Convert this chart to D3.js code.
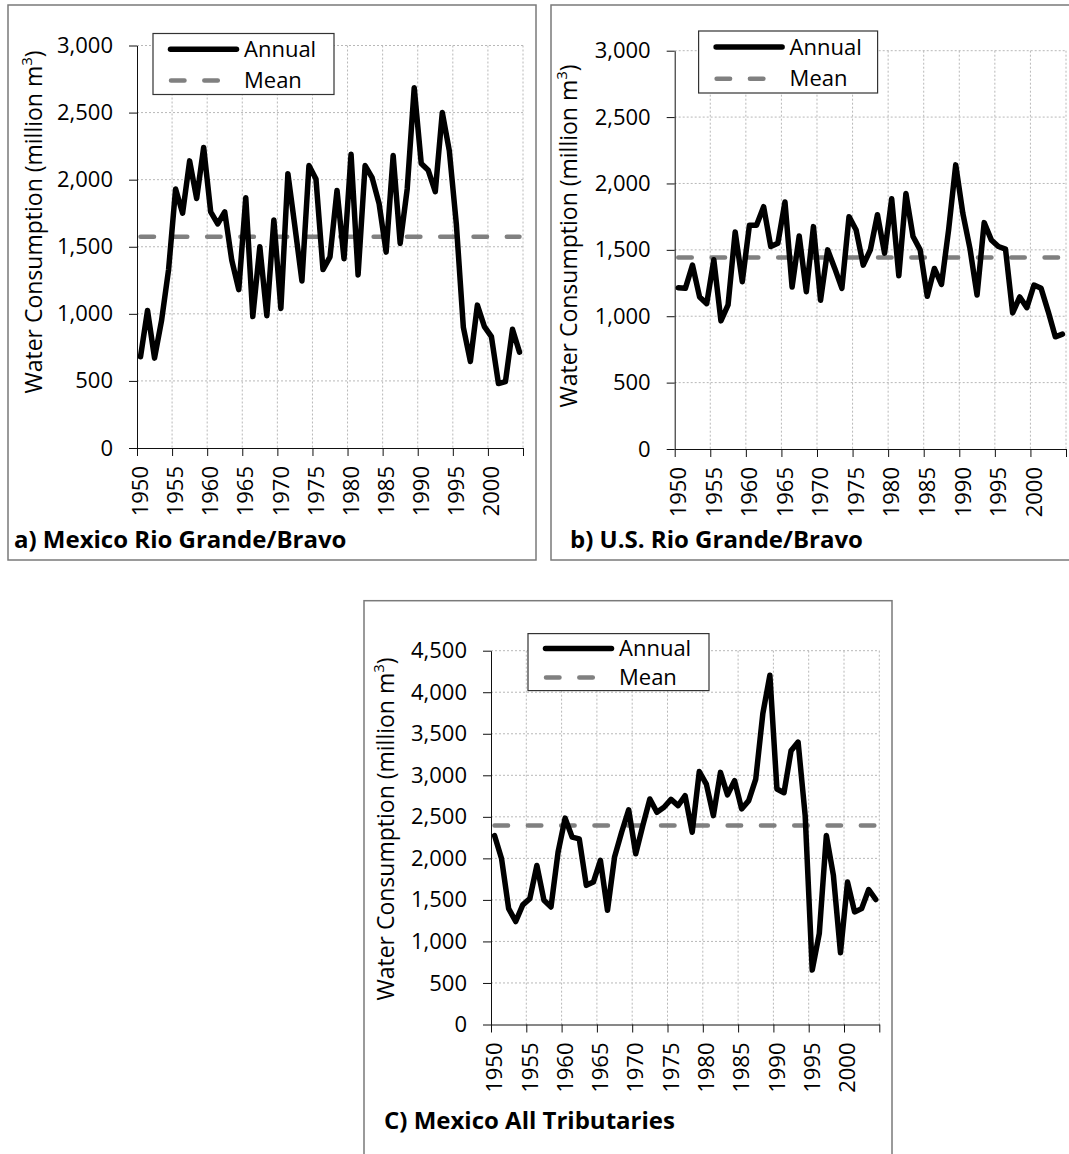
<!DOCTYPE html>
<html>
<head>
<meta charset="utf-8">
<script src="https://cdn.jsdelivr.net/npm/d3@7/dist/d3.min.js"></script>
<style>
  body { margin: 0; background: #fff; }
  svg { display: block; font-family: "Open Sans", "Liberation Sans", sans-serif; }
</style>
</head>
<body>
<div id="chart"></div>
<script>
// Categories (one per year) and the labelled ticks on the x axis.
const years = [
  1950, 1951, 1952, 1953, 1954, 1955, 1956, 1957, 1958, 1959,
  1960, 1961, 1962, 1963, 1964, 1965, 1966, 1967, 1968, 1969,
  1970, 1971, 1972, 1973, 1974, 1975, 1976, 1977, 1978, 1979,
  1980, 1981, 1982, 1983, 1984, 1985, 1986, 1987, 1988, 1989,
  1990, 1991, 1992, 1993, 1994, 1995, 1996, 1997, 1998, 1999,
  2000, 2001, 2002, 2003, 2004,
];
const xTickLabels = ["1950", "1955", "1960", "1965", "1970", "1975", "1980", "1985", "1990", "1995", "2000"];

const yTicksRio = [0, 500, 1000, 1500, 2000, 2500, 3000];
const yTicksTrib = [0, 500, 1000, 1500, 2000, 2500, 3000, 3500, 4000, 4500];

// Annual water consumption, million m3.
const mexicoRio = [
  680, 1025, 670, 950, 1330, 1930, 1750, 2140, 1860, 2240,
  1760, 1670, 1760, 1400, 1180, 1865, 980, 1500, 985, 1700,
  1040, 2045, 1650, 1245, 2105, 2005, 1330, 1425, 1920, 1410,
  2190, 1290, 2105, 2015, 1820, 1460, 2180, 1525, 1930, 2685,
  2120, 2070, 1910, 2500, 2215, 1670, 900, 645, 1065, 905,
  830, 480, 495, 885, 715,
];
const usRio = [
  1215, 1210, 1385, 1145, 1095, 1425, 965, 1085, 1635, 1260,
  1685, 1685, 1825, 1525, 1550, 1860, 1220, 1605, 1185, 1675,
  1120, 1500, 1360, 1210, 1750, 1650, 1385, 1500, 1765, 1475,
  1885, 1305, 1925, 1600, 1500, 1150, 1360, 1240, 1650, 2140,
  1775, 1510, 1160, 1705, 1575, 1525, 1505, 1025, 1145, 1065,
  1235, 1210, 1035, 845, 865,
];
const mexicoTrib = [
  2275, 1995, 1395, 1240, 1440, 1515, 1915, 1495, 1415, 2075,
  2485, 2255, 2235, 1675, 1715, 1975, 1375, 2015, 2315, 2585,
  2055, 2395, 2715, 2555, 2615, 2710, 2635, 2755, 2315, 3045,
  2895, 2515, 3035, 2765, 2935, 2595, 2695, 2955, 3740, 4205,
  2835, 2790, 3295, 3400, 2515, 655, 1095, 2275, 1795, 865,
  1715, 1355, 1395, 1625, 1505,
];

const mexicoRioMean = 1575;
const usRioMean = 1443;
const mexicoTribMean = 2395;

const legendLabels = ["Annual", "Mean"];
const yTitle = "Water Consumption (million m";

const panels = [
  {
    title: "a) Mexico Rio Grande/Bravo",
    values: mexicoRio,
    mean: mexicoRioMean,
    yTicks: yTicksRio,
    frame: { x: 8, y: 5, w: 528, h: 555 },
    plot: { left: 137, right: 523, top: 45.5, bottom: 448 },
    legend: { x: 153, y: 33.5, w: 181, h: 61 },
    yTitlePos: { x: 42, y: 222 },
    titlePos: { x: 14, y: 548 },
  },
  {
    title: "b) U.S. Rio Grande/Bravo",
    values: usRio,
    mean: usRioMean,
    yTicks: yTicksRio,
    frame: { x: 551, y: 5, w: 540, h: 555 },
    plot: { left: 674.7, right: 1066, top: 50.7, bottom: 449 },
    legend: { x: 698.6, y: 31, w: 179, h: 62 },
    yTitlePos: { x: 577, y: 236 },
    titlePos: { x: 570, y: 548 },
  },
  {
    title: "C) Mexico All Tributaries",
    values: mexicoTrib,
    mean: mexicoTribMean,
    yTicks: yTicksTrib,
    frame: { x: 364, y: 600.7, w: 528, h: 600 },
    plot: { left: 491, right: 879.3, top: 650.7, bottom: 1024.5 },
    legend: { x: 528, y: 633.6, w: 181, h: 57 },
    yTitlePos: { x: 394, y: 829 },
    titlePos: { x: 384, y: 1129 },
  },
];

const gridColor = "#b8b8b8";
const meanColor = "#808080";
const meanDash = "13.5,19.8";

const svg = d3
  .select("#chart")
  .append("svg")
  .attr("width", 1069)
  .attr("height", 1154);

svg.append("rect").attr("width", 1069).attr("height", 1154).attr("fill", "#fff");

function drawPanel(p) {
  const g = svg.append("g");

  // outer chart border
  g.append("rect")
    .attr("x", p.frame.x)
    .attr("y", p.frame.y)
    .attr("width", p.frame.w)
    .attr("height", p.frame.h)
    .attr("fill", "none")
    .attr("stroke", "#7a7a7a")
    .attr("stroke-width", 1.5);

  const x = d3
    .scaleBand()
    .domain(years)
    .range([p.plot.left, p.plot.right]);
  const bw = x.bandwidth();

  // edges of the categories, where Excel puts the ticks
  const edges = xTickLabels.map(Number).concat([years[years.length - 1] + 1]);
  const xEdge = d3
    .scaleLinear()
    .domain([years[0], years[years.length - 1] + 1])
    .range([p.plot.left, p.plot.right]);

  const yMax = p.yTicks[p.yTicks.length - 1];
  const y = d3.scaleLinear().domain([0, yMax]).range([p.plot.bottom, p.plot.top]);

  // gridlines
  g.append("g")
    .selectAll("line")
    .data(p.yTicks.filter((d) => d > 0))
    .join("line")
    .attr("x1", p.plot.left)
    .attr("x2", p.plot.right)
    .attr("y1", (d) => y(d))
    .attr("y2", (d) => y(d))
    .attr("stroke", gridColor)
    .attr("stroke-dasharray", "2,2");

  g.append("g")
    .selectAll("line")
    .data(edges.slice(1))
    .join("line")
    .attr("x1", (d) => xEdge(d))
    .attr("x2", (d) => xEdge(d))
    .attr("y1", p.plot.top)
    .attr("y2", p.plot.bottom)
    .attr("stroke", gridColor)
    .attr("stroke-dasharray", "2,2");

  // y axis
  const yAxis = g
    .append("g")
    .attr("transform", `translate(${p.plot.left},0)`)
    .call(
      d3
        .axisLeft(y)
        .tickValues(p.yTicks)
        .tickFormat(d3.format(","))
        .tickSizeInner(8)
        .tickSizeOuter(0)
        .tickPadding(16)
    )
    .attr("font-family", null)
    .attr("font-size", 22);
  yAxis.selectAll("path, line").attr("stroke", "#111");
  yAxis.selectAll("text").attr("fill", "#000");

  // x axis: ticks at category edges, labels centred on categories
  const xAxis = g
    .append("g")
    .attr("transform", `translate(0,${p.plot.bottom})`)
    .call(d3.axisBottom(xEdge).tickValues(edges).tickFormat("").tickSizeInner(8).tickSizeOuter(0));
  xAxis.selectAll("path, line").attr("stroke", "#111");

  g.append("g")
    .selectAll("text")
    .data(xTickLabels)
    .join("text")
    .attr("transform", (d) => `translate(${x(+d) + bw / 2},${p.plot.bottom + 18}) rotate(-90)`)
    .attr("text-anchor", "end")
    .attr("dy", "0.35em")
    .attr("font-size", 22)
    .attr("fill", "#000")
    .text((d) => d);

  // mean line
  const meanLine = d3
    .line()
    .x((d) => x(d) + bw / 2)
    .y(() => y(p.mean));

  g.append("path")
    .datum(years)
    .attr("d", meanLine)
    .attr("fill", "none")
    .attr("stroke", meanColor)
    .attr("stroke-width", 4.5)
    .attr("stroke-linecap", "round")
    .attr("stroke-dasharray", meanDash);

  // annual series
  const line = d3
    .line()
    .x((d, i) => x(years[i]) + bw / 2)
    .y((d) => y(d));

  g.append("path")
    .datum(p.values)
    .attr("d", line)
    .attr("fill", "none")
    .attr("stroke", "#000")
    .attr("stroke-width", 5.5)
    .attr("stroke-linejoin", "round")
    .attr("stroke-linecap", "round");

  // y axis title
  const yt = g
    .append("text")
    .attr("transform", `translate(${p.yTitlePos.x},${p.yTitlePos.y}) rotate(-90)`)
    .attr("text-anchor", "middle")
    .attr("font-size", 23)
    .attr("fill", "#000");
  yt.append("tspan").text(yTitle);
  yt.append("tspan").attr("baseline-shift", "super").attr("font-size", 15).text("3");
  yt.append("tspan").text(")");

  // legend
  const lg = p.legend;
  g.append("rect")
    .attr("x", lg.x)
    .attr("y", lg.y)
    .attr("width", lg.w)
    .attr("height", lg.h)
    .attr("fill", "#fff")
    .attr("stroke", "#333")
    .attr("stroke-width", 1.2);

  const rowY = [lg.y + lg.h * 0.26, lg.y + lg.h * 0.77];

  g.append("line")
    .attr("x1", lg.x + 17.5)
    .attr("x2", lg.x + 83.5)
    .attr("y1", rowY[0])
    .attr("y2", rowY[0])
    .attr("stroke", "#000")
    .attr("stroke-width", 5.5)
    .attr("stroke-linecap", "round");

  g.append("line")
    .attr("x1", lg.x + 18)
    .attr("x2", lg.x + 65)
    .attr("y1", rowY[1])
    .attr("y2", rowY[1])
    .attr("stroke", meanColor)
    .attr("stroke-width", 4.5)
    .attr("stroke-linecap", "round")
    .attr("stroke-dasharray", meanDash);

  g.append("g")
    .selectAll("text")
    .data(legendLabels)
    .join("text")
    .attr("x", lg.x + 91)
    .attr("y", (d, i) => rowY[i])
    .attr("dy", "0.35em")
    .attr("font-size", 22)
    .attr("fill", "#000")
    .text((d) => d);

  // panel caption
  g.append("text")
    .attr("x", p.titlePos.x)
    .attr("y", p.titlePos.y)
    .attr("font-size", 24)
    .attr("font-weight", "bold")
    .attr("fill", "#000")
    .text(p.title);
}

panels.forEach(drawPanel);
</script>
</body>
</html>
